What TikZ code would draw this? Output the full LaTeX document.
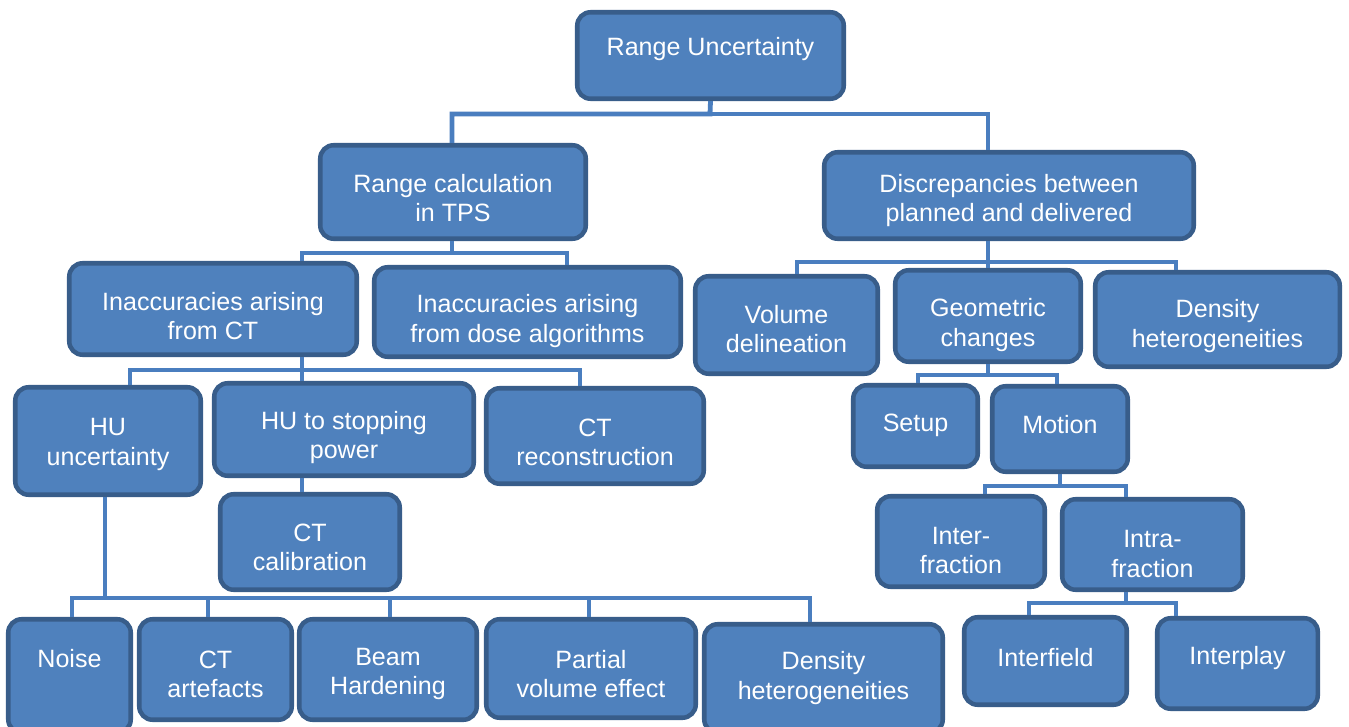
\documentclass[tikz,border=0pt]{standalone}
\usepackage{fontspec}
\setmainfont{Liberation Sans}
\definecolor{boxfill}{HTML}{4F81BD}
\definecolor{boxline}{HTML}{385D8A}
\definecolor{connline}{HTML}{4A7EBF}
\tikzset{
  box/.style={draw=boxline, fill=boxfill, line width=3.4pt, rounded corners=10pt, inner sep=0pt},
  txt/.style={text=white, align=center, font=\fontsize{18.8}{21.8}\selectfont, inner sep=0pt},
  conn/.style={draw=connline, line width=3.6pt}
}
% name, x1, y1, x2, y2, text-centre y, text
\newcommand\bx[7]{%
  \node[box, minimum width={(#4-#2-4.5)*0.75pt}, minimum height={(#5-#3-4.5)*0.75pt}] (#1) at ({(#2+#4)/2},{(#3+#5)/2}) {};
  \node[txt] (#1-t) at ({(#2+#4)/2},{#6+2}) {#7};
}
\begin{document}
\begin{tikzpicture}[x=0.75pt,y=-0.75pt]
\useasboundingbox[fill=white] (0,0) rectangle (1349,727);

\bx{ru}{575}{10}{846}{101}{47}{Range Uncertainty}
\bx{rc}{318}{143}{588}{241}{196.5}{Range calculation\\in TPS}
\bx{disc}{822}{150}{1196}{241}{198.5}{Discrepancies between\\planned and delivered}
\bx{ct}{67}{261}{359}{357}{314}{Inaccuracies arising\\from CT}
\bx{dose}{372}{265}{683}{359}{319}{Inaccuracies arising\\from dose algorithms}
\bx{vol}{693}{274}{880}{376}{327.5}{Volume\\delineation}
\bx{geo}{893}{268}{1083}{364}{323}{Geometric\\changes}
\bx{densr}{1093}{270}{1342}{369}{324}{Density\\heterogeneities}
\bx{hu}{13}{385}{203}{497}{442.5}{HU\\uncertainty}
\bx{husp}{212}{381}{476}{478}{435.5}{HU to stopping\\power}
\bx{ctrec}{484}{386}{706}{486}{440.5}{CT\\reconstruction}
\bx{setup}{851}{383}{980}{469}{423}{Setup}
\bx{motion}{990}{384}{1130}{474}{423}{Motion}
\bx{ctcal}{218}{492}{402}{592}{545.5}{CT\\calibration}
\bx{inter}{875}{494}{1047}{589}{548.5}{Inter-\\fraction}
\bx{intra}{1060}{497}{1245}{592}{552}{Intra-\\fraction}
\bx{noise}{6}{617}{133}{735}{657}{Noise}
\bx{ctart}{137}{617}{294}{722}{672}{CT\\artefacts}
\bx{beam}{297}{617}{479}{722}{672}{Beam\\Hardening}
\bx{pve}{484}{617}{698}{720}{672}{Partial\\volume effect}
\bx{densb}{702}{622}{945}{735}{676}{Density\\heterogeneities}
\bx{ifield}{962}{615}{1129}{707}{656}{Interfield}
\bx{iplay}{1155}{616}{1320}{711}{656}{Interplay}

% connectors
\coordinate (b1) at (710,114);
\draw[conn] (ru.south) -- (b1) -| (452,0 |- rc.north);
\draw[conn] (b1) -| (988,0 |- disc.north);

\coordinate (b2) at (452,253);
\draw[conn] (452,0 |- rc.south) -- (b2) -| (302,0 |- ct.north);
\draw[conn] (b2) -| (567,0 |- dose.north);

\coordinate (b3) at (302,370);
\draw[conn] (302,0 |- ct.south) -- (b3) -- (302,0 |- husp.north);
\draw[conn] (b3) -| (130,0 |- hu.north);
\draw[conn] (b3) -| (580,0 |- ctrec.north);

\draw[conn] (302,0 |- husp.south) -- (302,0 |- ctcal.north);

\coordinate (b4) at (105,598);
\draw[conn] (105,0 |- hu.south) -- (b4) -| (72,0 |- noise.north);
\draw[conn] (b4) -| (208,0 |- ctart.north);
\draw[conn] (b4) -| (390,0 |- beam.north);
\draw[conn] (b4) -| (589,0 |- pve.north);
\draw[conn] (b4) -| (810,0 |- densb.north);

\coordinate (b5) at (988,262);
\draw[conn] (988,0 |- disc.south) -- (b5) -- (988,0 |- geo.north);
\draw[conn] (b5) -| (797,0 |- vol.north);
\draw[conn] (b5) -| (1176,0 |- densr.north);

\coordinate (b6) at (988,375);
\draw[conn] (988,0 |- geo.south) -- (b6) -| (918,0 |- setup.north);
\draw[conn] (b6) -| (1057,0 |- motion.north);

\coordinate (b7) at (1060,486);
\draw[conn] (1060,0 |- motion.south) -- (b7) -| (985,0 |- inter.north);
\draw[conn] (b7) -| (1126,0 |- intra.north);

\coordinate (b8) at (1126,603);
\draw[conn] (1126,0 |- intra.south) -- (b8) -| (1029,0 |- ifield.north);
\draw[conn] (b8) -| (1176,0 |- iplay.north);
\end{tikzpicture}
\end{document}
